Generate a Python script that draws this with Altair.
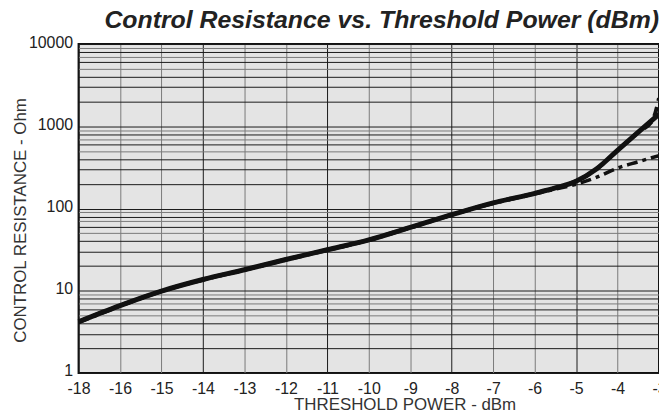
import altair as alt
import pandas as pd

# --- data ---
x_solid = [-18, -16, -15, -14, -13, -12, -11, -10, -9, -8, -7, -6, -5.5, -5, -4.5, -4, -3.5, -3]
r_solid = [4.2, 6.6, 9.9, 13.7, 18, 24, 31.5, 41.5, 59, 84, 117, 153, 178, 215, 305, 509, 848, 1400]

x_dashed = [-18, -16, -15, -14, -13, -12, -11, -10, -9, -8, -7, -6, -5.5, -5, -4.5, -4, -3.5, -3.15, -3]
r_dashed = [4.2, 6.6, 9.9, 13.7, 18, 24, 31.5, 41.5, 59, 84, 117, 153, 178, 215, 305, 509, 848, 1200, 2200]

x_dashdot = [-18, -16, -15, -14, -13, -12, -11, -10, -9, -8, -7, -6, -5.5, -5, -4.5, -4, -3.5, -3]
r_dashdot = [4.1, 6.5, 9.8, 13.5, 17.8, 23.6, 31, 41, 58, 83, 115, 150, 172, 197, 240, 310, 370, 440]

x_ticks = list(range(0, 15))  # axis positions, labelled -18, -16, -15 ... -3
y_ticks = [m * 10 ** e for e in range(0, 4) for m in range(1, 10)] + [10000]

title = "Control Resistance vs. Threshold Power (dBm)"
x_title = "THRESHOLD POWER - dBm"
y_title = "CONTROL RESISTANCE - Ohm"

rows = []
for name, xs, rs in [("dashed", x_dashed, r_dashed), ("dashdot", x_dashdot, r_dashdot), ("solid", x_solid, r_solid)]:
    for xv, rv in zip(xs, rs):
        rows.append({"series": name, "dbm": xv, "ohm": rv})
df = pd.DataFrame(rows)

label_font = "Liberation Sans"

x_enc = alt.X(
    "pos:Q",
    scale=alt.Scale(domain=[0, 14], nice=False, zero=False),
    axis=alt.Axis(
        values=x_ticks,
        labelExpr="datum.value == 0 ? '-18' : '' + (datum.value - 17)",
        title=x_title,
        titleX=328, titleY=37, titleAlign="center", titleBaseline="alphabetic",
        titleFont="Liberation Sans", titleFontSize=17, titleFontWeight="normal", titleColor="#333",
        labelFont=label_font, labelFontSize=16, labelColor="#222",
        labelPadding=8, ticks=False, domain=False,
        grid=True, gridWidth=1,
        gridColor={"condition": {"test": "datum.value % 3 == 0", "value": "#1a1a1a"}, "value": "#7a7a7a"},
        labelFlush=False, labelOverlap=False,
    ),
)

y_enc = alt.Y(
    "ohm:Q",
    scale=alt.Scale(type="log", domain=[1, 10000], nice=False),
    axis=alt.Axis(
        values=y_ticks,
        labelExpr="indexof([1,10,100,1000,10000], datum.value) >= 0 ? format(datum.value, 'd') : ''",
        title=y_title,
        titleX=-53, titleY=177, titleAngle=270, titleAlign="center", titleBaseline="alphabetic",
        titleFont="Liberation Sans", titleFontSize=17, titleFontWeight="normal", titleColor="#333",
        labelFont=label_font, labelFontSize=16, labelColor="#222",
        labelPadding=6, labelOffset=-2, ticks=False, domain=False,
        grid=True, gridWidth=1,
        gridColor={"condition": {"test": "indexof([5,7,9,50,70,90,500,700,900,5000,7000,9000], datum.value) >= 0", "value": "#7a7a7a"}, "value": "#1a1a1a"},
        labelOverlap=False,
    ),
)

base = alt.Chart(df).transform_calculate(
    pos="datum.dbm <= -16 ? (datum.dbm + 18) / 2 : datum.dbm + 17"
)

dashed = base.transform_filter("datum.series == 'dashed'").mark_line(
    color="#111", strokeWidth=4, strokeDash=[10, 6], interpolate="monotone"
).encode(x=x_enc, y=y_enc, order="dbm:Q")

dashdot = base.transform_filter("datum.series == 'dashdot'").mark_line(
    color="#111", strokeWidth=3.5, strokeDash=[11, 5, 4, 5], interpolate="monotone"
).encode(x=x_enc, y=y_enc, order="dbm:Q")

solid = base.transform_filter("datum.series == 'solid'").mark_line(
    color="#111", strokeWidth=5, interpolate="monotone"
).encode(x=x_enc, y=y_enc, order="dbm:Q")

chart = alt.layer(dashed, dashdot, solid).properties(
    width=584,
    height=331,
    autosize=alt.AutoSizeParams(type="none"),
    padding={"left": 71, "top": 35, "right": 0, "bottom": 40},
    title=alt.TitleParams(
        text=title, anchor="end", frame="group", orient="top",
        font="Liberation Sans", fontSize=25, fontStyle="italic", fontWeight="bold",
        color="#222", baseline="alphabetic", offset=6, dy=25,
    ),
).configure(
    background="white"
).configure_view(
    fill="#e4e4e4", stroke="#111", strokeWidth=2
)

chart.save("out.html", embed_options={"renderer": "svg", "actions": False})
